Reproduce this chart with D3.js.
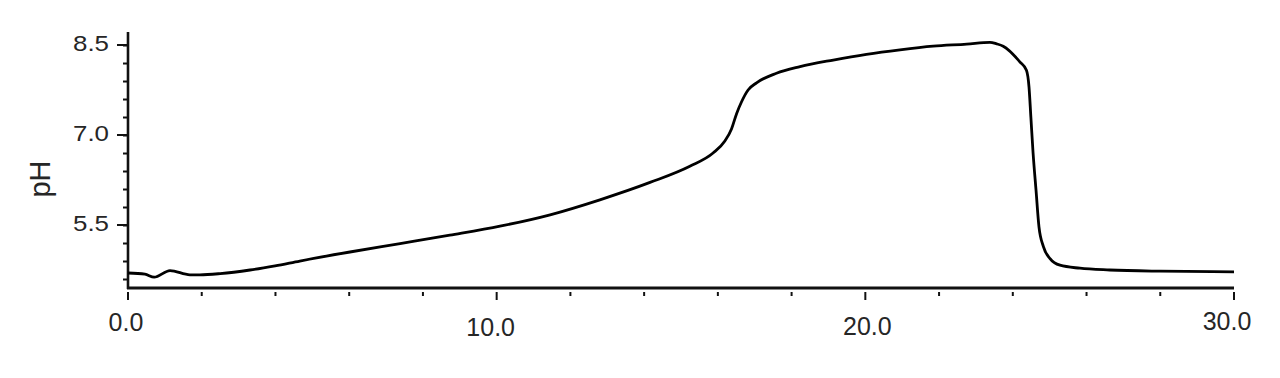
<html><head>
<title>pH trace</title>
<script src="https://d3js.org/d3.v7.min.js"></script>
<style>
  body { margin: 0; background: #fff; }
  text { font-family: "Liberation Sans", Arial, sans-serif; fill: #262626; }
</style>
</head>
<body>
<svg id="chart" width="1280" height="378"></svg>
<script>
  // values
  const time = [0, 0.46, 0.71, 1.14, 1.68, 1.95, 2.5, 3.31, 3.99, 4.66, 6.02, 7.38, 8.73, 10.09,
                11.45, 12.8, 14.16, 15.24, 15.87, 16.19, 16.37, 16.51, 16.64, 16.82, 17.05, 17.59,
                18.23, 19.13, 20.03, 20.94, 21.84, 22.75, 23.38, 23.56, 23.74, 24.19, 24.37, 24.44,
                24.49, 24.55, 24.63, 24.71, 24.83, 25.01, 25.28, 25.82, 26.63, 27.99, 30.0];
  const pH = [4.70, 4.68, 4.63, 4.74, 4.67, 4.67, 4.69, 4.75, 4.82, 4.90, 5.05, 5.19, 5.33, 5.48,
              5.67, 5.92, 6.21, 6.48, 6.70, 6.90, 7.10, 7.36, 7.55, 7.75, 7.87, 8.03,
              8.14, 8.25, 8.345, 8.42, 8.48, 8.515, 8.545, 8.52, 8.48, 8.22, 8.08, 7.80,
              7.30, 6.70, 6.08, 5.47, 5.14, 4.94, 4.83, 4.78, 4.75, 4.73, 4.72];

  const xMajor = [0, 10, 20, 30];
  const xMinor = d3.range(0, 30.01, 2);
  const yMajor = [5.5, 7.0, 8.5];
  const yMinor = d3.range(4.6, 8.55, 0.3);

  const data = time.map((t, i) => ({ t: t, v: pH[i] }));

  const svg = d3.select("svg#chart");
  const mLeft = 128, mRight = 1234, mTop = 32, mBottom = 288;

  const x = d3.scaleLinear().domain([0, 30]).range([mLeft, mRight]);
  const y = d3.scaleLinear().domain([4.45, 8.717]).range([mBottom, mTop]);

  // labels in the original are not quite centred on their ticks
  const xLabelShift = { 0: -2, 10: -6, 20: 2, 30: -7 };
  const xLabelBase = { 0: 331, 10: 336, 20: 335, 30: 330 };

  // x ticks sit a little below the axis line
  let xt = svg.append("g");
  xt.selectAll("line.minor").data(xMinor)
    .join("line")
    .attr("class", "minor")
    .attr("x1", d => x(d)).attr("x2", d => x(d))
    .attr("y1", mBottom + 4).attr("y2", d => xMajor.includes(d) ? mBottom + 12 : mBottom + 8)
    .attr("stroke", "#111").attr("stroke-width", 2);

  xt.selectAll("text").data(xMajor)
    .join("text")
    .attr("x", d => x(d) + xLabelShift[d])
    .attr("y", d => xLabelBase[d])
    .attr("text-anchor", "middle")
    .style("font-size", "25px")
    .text(d => d.toFixed(1));

  // y axis
  let yAxis = d3.axisLeft(y).tickValues(yMinor).tickSize(5).tickFormat("");
  svg.append("g").attr("transform", `translate(${mLeft},0)`).call(yAxis)
    .call(g => g.select(".domain").remove())
    .call(g => g.selectAll("line").attr("stroke", "#111").attr("stroke-width", 2));

  svg.append("g").selectAll("line").data(yMajor)
    .join("line")
    .attr("x1", mLeft - 11).attr("x2", mLeft)
    .attr("y1", d => y(d)).attr("y2", d => y(d))
    .attr("stroke", "#111").attr("stroke-width", 2);

  svg.append("g").selectAll("text").data(yMajor)
    .join("text")
    .attr("x", 109)
    .attr("y", d => y(d) + 6)
    .attr("text-anchor", "end")
    .attr("textLength", 36)
    .attr("lengthAdjust", "spacingAndGlyphs")
    .style("font-size", "22.5px")
    .text(d => d.toFixed(1));

  // axis lines
  svg.append("line")
    .attr("x1", mLeft).attr("x2", mLeft).attr("y1", mTop).attr("y2", mBottom + 1)
    .attr("stroke", "#111").attr("stroke-width", 2.6);
  svg.append("line")
    .attr("x1", mLeft - 1).attr("x2", mRight).attr("y1", mBottom).attr("y2", mBottom)
    .attr("stroke", "#111").attr("stroke-width", 2.8);

  svg.append("text")
    .attr("transform", "translate(50,179) rotate(-90)")
    .attr("text-anchor", "middle")
    .style("font-size", "29px")
    .text("pH");

  let line = d3.line().x(d => x(d.t)).y(d => y(d.v)).curve(d3.curveMonotoneX);
  svg.append("path").datum(data)
    .attr("d", line)
    .attr("fill", "none")
    .attr("stroke", "#000")
    .attr("stroke-width", 2.8)
    .attr("stroke-linejoin", "round");
</script>
</body>
</html>
